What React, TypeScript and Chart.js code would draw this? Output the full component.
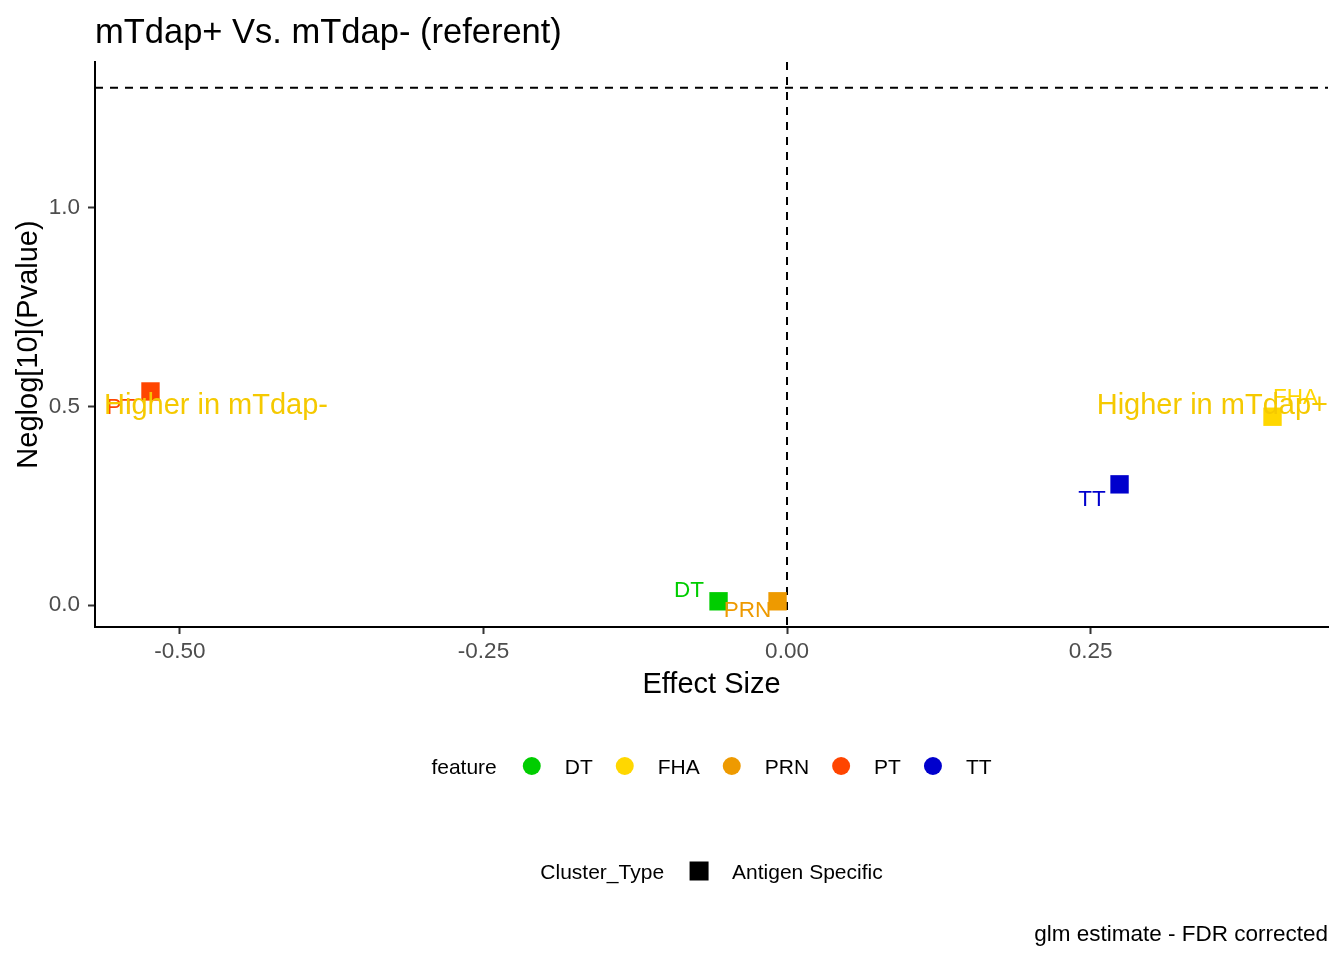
import { useEffect, useRef } from 'react'
import { Chart, registerables } from 'chart.js'

Chart.register(...registerables)

// data
const features = ['DT', 'FHA', 'PRN', 'PT', 'TT']
const effectSize = [-0.0564, 0.3999, -0.0078, -0.5243, 0.2739]
const negLogP = [0.01, 0.474, 0.01, 0.5375, 0.304]
const clusterTypes = ['Antigen Specific']
const pThreshold = 0.05

const xTickValues = [-0.5, -0.25, 0, 0.25]
const xTickLabels = ['-0.50', '-0.25', '0.00', '0.25']
const yTickValues = [0, 0.5, 1.0]
const yTickLabels = ['0.0', '0.5', '1.0']

const lowerLabel = 'Higher in mTdap-'
const upperLabel = 'Higher in mTdap+'

// styling
const FONT = "'Liberation Sans', Arial, sans-serif"
const featureColors = ['#00CD00', '#FFD700', '#EE9A00', '#FF4500', '#0000CD']
const annotationColor = '#F5C900'
// label offset from the point centre in px (ggrepel placement)
const labelNudge: Record<string, [number, number]> = {
  DT: [-29.5, -12.5],
  FHA: [23, -21],
  PRN: [-30, 7.5],
  PT: [-29.5, 14.5],
  TT: [-27.5, 13.5],
}

function drawLegendRow(
  ctx: CanvasRenderingContext2D,
  title: string,
  labels: string[],
  drawKey: (i: number, cx: number, cy: number) => void,
  centerX: number,
  cy: number,
) {
  ctx.font = `21px ${FONT}`
  const titleW = ctx.measureText(title).width
  const widths = labels.map((l) => ctx.measureText(l).width)
  let total = titleW + 35
  widths.forEach((w, i) => {
    total += 33 + w
    if (i < widths.length - 1) total += 32
  })
  let x = centerX - total / 2
  ctx.fillStyle = '#000'
  ctx.textAlign = 'left'
  ctx.textBaseline = 'alphabetic'
  ctx.fillText(title, x, cy + 7.5)
  x += titleW + 35
  labels.forEach((l, i) => {
    drawKey(i, x, cy)
    ctx.fillStyle = '#000'
    ctx.font = `21px ${FONT}`
    ctx.fillText(l, x + 33, cy + 7.5)
    x += 33 + widths[i] + 32
  })
}

const overlayPlugin = {
  id: 'overlay',
  beforeDatasetsDraw(chart: any) {
    const { ctx, chartArea, scales } = chart
    const { x, y } = scales
    ctx.save()
    ctx.strokeStyle = '#000'
    ctx.lineWidth = 2
    ctx.setLineDash([8, 7])
    const yh = y.getPixelForValue(-Math.log10(pThreshold))
    ctx.beginPath()
    ctx.moveTo(chartArea.left, yh)
    ctx.lineTo(chartArea.right, yh)
    ctx.stroke()
    const xv = x.getPixelForValue(0)
    ctx.beginPath()
    ctx.moveTo(xv, chartArea.top)
    ctx.lineTo(xv, chartArea.bottom)
    ctx.stroke()
    ctx.restore()
  },
  afterDatasetsDraw(chart: any) {
    const { ctx, chartArea, scales } = chart
    const { x, y } = scales
    ctx.save()
    // repelled point labels
    ctx.font = `22.5px ${FONT}`
    ctx.textAlign = 'center'
    ctx.textBaseline = 'alphabetic'
    features.forEach((f, i) => {
      const px = x.getPixelForValue(effectSize[i])
      const py = y.getPixelForValue(negLogP[i])
      const [dx, dy] = labelNudge[f]
      ctx.fillStyle = featureColors[i]
      ctx.fillText(f, px + dx, py + dy + 8)
    })
    // direction annotations
    ctx.font = `29px ${FONT}`
    ctx.fillStyle = annotationColor
    const ya = y.getPixelForValue(0.5) + 8
    ctx.textAlign = 'left'
    ctx.fillText(lowerLabel, chartArea.left + 9, ya)
    ctx.textAlign = 'right'
    ctx.fillText(upperLabel, chartArea.right, ya)
    ctx.restore()
  },
  afterDraw(chart: any) {
    const { ctx, chartArea } = chart
    const midX = (chartArea.left + chartArea.right) / 2
    const midY = (chartArea.top + chartArea.bottom) / 2
    ctx.save()
    ctx.fillStyle = '#000'
    ctx.textBaseline = 'alphabetic'

    // title
    ctx.font = `34.5px ${FONT}`
    ctx.textAlign = 'left'
    ctx.fillText('mTdap+ Vs. mTdap- (referent)', chartArea.left, 43)

    // axis titles
    ctx.font = `29px ${FONT}`
    ctx.textAlign = 'center'
    ctx.fillText('Effect Size', midX, 693)
    ctx.save()
    ctx.translate(37, midY)
    ctx.rotate(-Math.PI / 2)
    ctx.fillText('Neglog[10](Pvalue)', 0, 0)
    ctx.restore()

    // legends
    drawLegendRow(
      ctx,
      'feature',
      features,
      (i, cx, cy) => {
        ctx.fillStyle = featureColors[i]
        ctx.beginPath()
        ctx.arc(cx, cy, 9, 0, Math.PI * 2)
        ctx.fill()
      },
      midX,
      766,
    )
    drawLegendRow(
      ctx,
      'Cluster_Type',
      clusterTypes,
      (_i, cx, cy) => {
        ctx.fillStyle = '#000'
        ctx.fillRect(cx - 9.5, cy - 9.5, 19, 19)
      },
      midX,
      871,
    )

    // caption
    ctx.fillStyle = '#000'
    ctx.font = `22.5px ${FONT}`
    ctx.textAlign = 'right'
    ctx.fillText('glm estimate - FDR corrected', chartArea.right, 941)
    ctx.restore()
  },
}

export default function App() {
  const canvasRef = useRef<HTMLCanvasElement>(null)
  const chartRef = useRef<Chart | null>(null)

  useEffect(() => {
    if (!canvasRef.current) return
    if (chartRef.current) chartRef.current.destroy()

    const tickFont = { family: FONT, size: 22.5 }

    chartRef.current = new Chart(canvasRef.current, {
      type: 'scatter',
      data: {
        datasets: features.map((f, i) => ({
          label: f,
          data: [{ x: effectSize[i], y: negLogP[i] }],
          pointStyle: 'rect',
          pointRadius: 13,
          pointHoverRadius: 13,
          backgroundColor: featureColors[i],
          borderColor: featureColors[i],
          borderWidth: 0,
        })),
      },
      options: {
        responsive: false,
        animation: false,
        layout: { padding: { top: 62, right: 16, left: 0, bottom: 0 } },
        plugins: {
          legend: { display: false },
          tooltip: { enabled: false },
        },
        scales: {
          x: {
            type: 'linear',
            min: -0.57,
            max: 0.4456,
            afterBuildTicks: (scale: any) => {
              scale.ticks = xTickValues.map((value) => ({ value }))
            },
            afterFit: (scale: any) => {
              scale.height = 333
            },
            ticks: {
              color: '#4D4D4D',
              font: tickFont,
              padding: 4,
              callback: (_v: any, i: number) => xTickLabels[i],
            },
            grid: {
              drawOnChartArea: false,
              drawTicks: true,
              tickLength: 7,
              tickColor: '#333333',
              tickWidth: 2,
            },
            border: { display: true, color: '#000', width: 2 },
          },
          y: {
            type: 'linear',
            min: -0.0546,
            max: 1.3657,
            afterBuildTicks: (scale: any) => {
              scale.ticks = yTickValues.map((value) => ({ value }))
            },
            afterFit: (scale: any) => {
              scale.width = 95
            },
            ticks: {
              color: '#4D4D4D',
              font: tickFont,
              padding: 8,
              callback: (_v: any, i: number) => yTickLabels[i],
            },
            grid: {
              drawOnChartArea: false,
              drawTicks: true,
              tickLength: 7,
              tickColor: '#333333',
              tickWidth: 2,
            },
            border: { display: true, color: '#000', width: 2 },
          },
        },
      },
      plugins: [overlayPlugin],
    })

    return () => {
      if (chartRef.current) {
        chartRef.current.destroy()
        chartRef.current = null
      }
    }
  }, [])

  return (
    <div style={{ position: 'absolute', left: 0, top: 0, width: 1344, height: 960, background: '#fff' }}>
      <canvas ref={canvasRef} width={1344} height={960}></canvas>
    </div>
  )
}
